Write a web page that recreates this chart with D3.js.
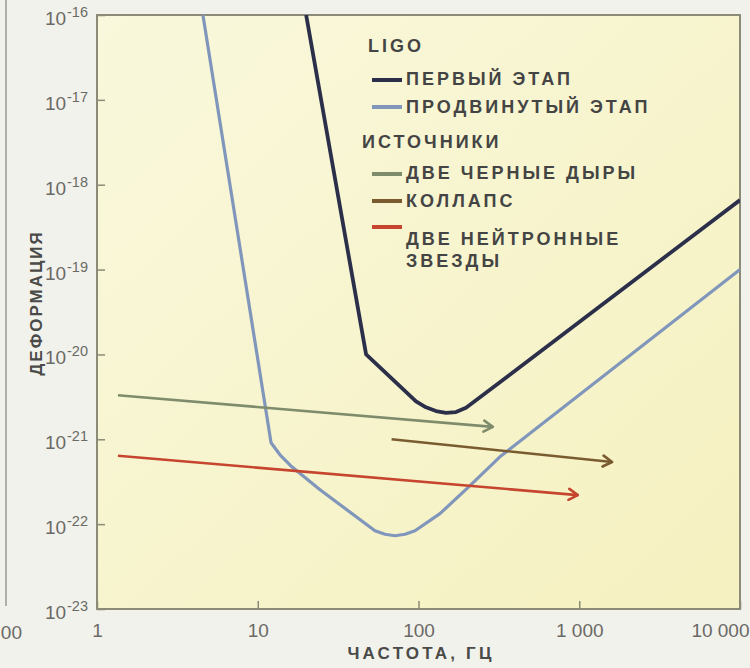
<!DOCTYPE html>
<html lang="ru">
<head>
<meta charset="utf-8">
<title>LIGO: чувствительность и источники</title>
<script src="https://cdn.jsdelivr.net/npm/d3@7"></script>
<style>
  body { margin: 0; background: #f2f2ed; }
  svg { display: block; }
  .tick text { font-family: "Liberation Sans", Arial, sans-serif; fill: #6a6a66; font-size: 19px; }
  .tick line { stroke: #8c8b78; stroke-width: 1.5; }
  .legend text { font-family: "Liberation Sans", Arial, sans-serif; font-weight: bold; fill: #444; font-size: 18px; letter-spacing: 3px; }
  .title { font-family: "Liberation Sans", Arial, sans-serif; font-weight: bold; fill: #4a4a48; font-size: 17px; }
</style>
</head>
<body>
<script>

var w = 750;
var h = 668;

// axis ticks
var freqTicks = [1, 10, 100, 1000, 10000];
var freqTickLabels = ["1", "10", "100", "1 000", "10 000"];
var strainExponents = [-16, -17, -18, -19, -20, -21, -22, -23];

// LIGO sensitivity curves (frequency in Hz, strain)
var firstFreq = [20, 47.2, 96.5, 111.3, 128.5, 148.3, 171.1, 197.5, 234.5, 10000];
var firstStrain = [1e-16, 1e-20, 2.8e-21, 2.38e-21, 2.15e-21, 2.05e-21, 2.09e-21, 2.35e-21, 3.0e-21, 6.6e-19];
var advFreq = [4.56, 12.1, 13.75, 16.3, 24.4, 53.6, 61.9, 71.4, 82.4, 95.1, 136, 203, 321, 10000];
var advStrain = [1e-16, 9.1e-22, 6.56e-22, 4.74e-22, 2.54e-22, 8.36e-23, 7.6e-23, 7.3e-23, 7.6e-23, 8.36e-23, 1.33e-22, 2.69e-22, 6.22e-22, 1e-19];

// sources (start and end of each arrow)
var bbhFreq = [1.35, 290];
var bbhStrain = [3.3e-21, 1.4e-21];
var collapseFreq = [68, 1600];
var collapseStrain = [1.0e-21, 5.4e-22];
var bnsFreq = [1.35, 980];
var bnsStrain = [6.4e-22, 2.2e-22];

var colFirst = "#2b2f4a";
var colAdv = "#8196bb";
var colBbh = "#7f8c6c";
var colCollapse = "#7a5b30";
var colBns = "#c6452e";

var x = d3.scaleLog().domain([1, 10000]).range([97, 740]);
var y = d3.scaleLog().domain([1e-23, 1e-16]).range([609, 15]);

var svg = d3.select("body").append("svg")
	.attr("width", w)
	.attr("height", h);

var defs = svg.append("defs");
var grad = defs.append("linearGradient")
	.attr("id", "bg")
	.attr("x1", 0).attr("y1", 0).attr("x2", 1).attr("y2", 1);
grad.append("stop").attr("offset", 0).attr("stop-color", "#f9f8dc");
grad.append("stop").attr("offset", 1).attr("stop-color", "#f5f1c0");

// bit of the neighbouring chart on the left edge
svg.append("line")
	.attr("x1", 6).attr("x2", 6).attr("y1", 0).attr("y2", 606)
	.attr("stroke", "#9a9a90").attr("stroke-width", 1.5);
svg.append("text")
	.attr("x", 22).attr("y", 639)
	.attr("text-anchor", "end")
	.style("font-family", "Liberation Sans, Arial, sans-serif")
	.style("font-size", "19px")
	.style("fill", "#6a6a66")
	.text("00");

// plot area
svg.append("rect")
	.attr("x", x(1)).attr("y", y(1e-16))
	.attr("width", x(10000) - x(1))
	.attr("height", y(1e-23) - y(1e-16))
	.attr("fill", "url(#bg)");

// axes
var gx = svg.append("g")
	.attr("transform", "translate(0," + y(1e-23) + ")")
	.call(d3.axisBottom(x)
		.tickValues(freqTicks)
		.tickFormat(function(d, i) { return freqTickLabels[i]; })
		.tickSizeInner(-8)
		.tickSizeOuter(0)
		.tickPadding(15));
gx.select(".domain").remove();
gx.selectAll(".tick text").filter(function(d) { return d === 10000; })
	.attr("text-anchor", "end")
	.attr("dx", 9);

var gy = svg.append("g")
	.attr("transform", "translate(" + x(1) + ",0)")
	.call(d3.axisLeft(y)
		.tickValues(strainExponents.map(function(e) { return Math.pow(10, e); }))
		.tickFormat("")
		.tickSizeInner(-8)
		.tickSizeOuter(0)
		.tickPadding(9));
gy.select(".domain").remove();
gy.selectAll(".tick text").each(function(d, i) {
	var t = d3.select(this).attr("dy", "0.5em");
	t.append("tspan").text("10");
	t.append("tspan").attr("dy", -8).attr("dx", 1).style("font-size", "14.5px").text(strainExponents[i]);
});

// frame
svg.append("rect")
	.attr("x", x(1)).attr("y", y(1e-16))
	.attr("width", x(10000) - x(1))
	.attr("height", y(1e-23) - y(1e-16))
	.attr("fill", "none")
	.attr("stroke", "#8c8b78")
	.attr("stroke-width", 2);

// axis titles
svg.append("text")
	.attr("class", "title")
	.attr("transform", "translate(42,303) rotate(-90)")
	.attr("text-anchor", "middle")
	.attr("letter-spacing", 2)
	.text("ДЕФОРМАЦИЯ");

svg.append("text")
	.attr("class", "title")
	.attr("x", 421).attr("y", 659)
	.attr("text-anchor", "middle")
	.attr("letter-spacing", 3.2)
	.text("ЧАСТОТА, ГЦ");

// sensitivity curves
var line = d3.line()
	.x(function(d) { return x(d[0]); })
	.y(function(d) { return y(d[1]); });

var clip = defs.append("clipPath").attr("id", "clip");
clip.append("rect")
	.attr("x", x(1)).attr("y", y(1e-16))
	.attr("width", x(10000) - x(1))
	.attr("height", y(1e-23) - y(1e-16));
var plot = svg.append("g").attr("clip-path", "url(#clip)");

plot.append("path")
	.datum(d3.zip(advFreq, advStrain))
	.attr("d", line)
	.attr("fill", "none")
	.attr("stroke", colAdv)
	.attr("stroke-width", 3.2)
	.attr("stroke-linejoin", "round");

plot.append("path")
	.datum(d3.zip(firstFreq, firstStrain))
	.attr("d", line)
	.attr("fill", "none")
	.attr("stroke", colFirst)
	.attr("stroke-width", 3.8)
	.attr("stroke-linejoin", "round");

// source arrows
var sources = [
	{ id: "bbh", f: bbhFreq, s: bbhStrain, c: colBbh },
	{ id: "collapse", f: collapseFreq, s: collapseStrain, c: colCollapse },
	{ id: "bns", f: bnsFreq, s: bnsStrain, c: colBns }
];

sources.forEach(function(src) {
	defs.append("marker")
		.attr("id", "arrow-" + src.id)
		.attr("viewBox", "0 0 14 14")
		.attr("refX", 12)
		.attr("refY", 7)
		.attr("markerWidth", 14)
		.attr("markerHeight", 14)
		.attr("markerUnits", "userSpaceOnUse")
		.attr("orient", "auto")
		.append("path")
		.attr("d", "M3,1.5 L12,7 L3,12.5")
		.attr("fill", "none")
		.attr("stroke", src.c)
		.attr("stroke-width", 2.6)
		.attr("stroke-linecap", "round")
		.attr("stroke-linejoin", "round");

	svg.append("path")
		.datum(d3.zip(src.f, src.s))
		.attr("d", line)
		.attr("fill", "none")
		.attr("stroke", src.c)
		.attr("stroke-width", 2.6)
		.attr("marker-end", "url(#arrow-" + src.id + ")");
});

// legend
var legend = svg.append("g").attr("class", "legend");

legend.append("text").attr("x", 368).attr("y", 52).attr("letter-spacing", 1).text("LIGO");
legend.append("text").attr("x", 362).attr("y", 148).text("ИСТОЧНИКИ");

var legendItems = [
	{ lines: ["ПЕРВЫЙ  ЭТАП"], c: colFirst, y: 85, sw: 5 },
	{ lines: ["ПРОДВИНУТЫЙ  ЭТАП"], c: colAdv, y: 113, sw: 6 },
	{ lines: ["ДВЕ ЧЕРНЫЕ ДЫРЫ"], c: colBbh, y: 179, sw: 5 },
	{ lines: ["КОЛЛАПС"], c: colCollapse, y: 207, sw: 6 },
	{ lines: ["ДВЕ НЕЙТРОННЫЕ", "ЗВЕЗДЫ"], c: colBns, y: 245, sw: 18 }
];

legendItems.forEach(function(it) {
	legend.append("line")
		.attr("x1", 372).attr("x2", 402)
		.attr("y1", it.y - it.sw).attr("y2", it.y - it.sw)
		.attr("stroke", it.c)
		.attr("stroke-width", 4);
	var t = legend.append("text").attr("x", 406).attr("y", it.y);
	it.lines.forEach(function(l, j) {
		t.append("tspan").attr("x", 406).attr("dy", j === 0 ? 0 : 22).text(l);
	});
});

</script>
</body>
</html>
